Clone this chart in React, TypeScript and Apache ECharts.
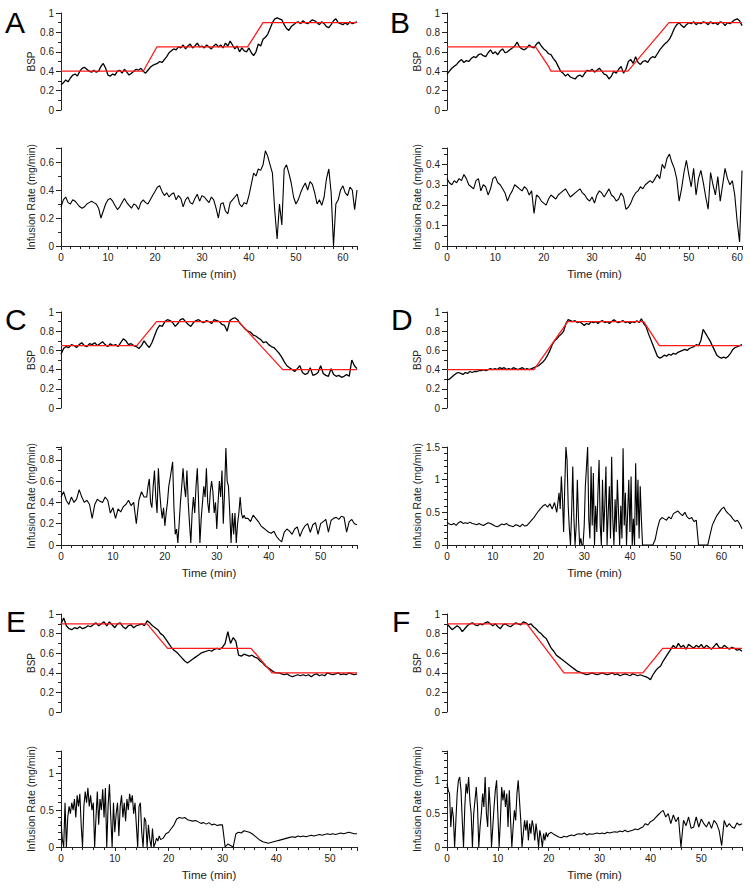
import React, { useEffect, useRef } from "react";
import * as echarts from "echarts";

// sampling step of every base trace (minutes)
const STEP = 0.5;
// sampling step of the finely read busy stretches (minutes)
const FINE_STEP = 0.25;

// ---------- Panel A ----------
const bspA = [
  0.26,0.28,0.31,0.29,0.33,0.36,0.37,0.35,0.40,0.43,0.44,0.42,0.40,0.39,0.41,0.39,0.40,0.45,0.48,0.43,0.36,
  0.35,0.37,0.36,0.40,0.41,0.38,0.42,0.39,0.36,0.38,0.40,0.42,0.41,0.43,0.40,0.38,0.41,0.44,0.46,0.47,
  0.48,0.50,0.49,0.52,0.55,0.59,0.61,0.63,0.62,0.65,0.64,0.67,0.63,0.66,0.68,0.64,0.66,0.69,0.65,0.66,
  0.64,0.67,0.65,0.63,0.66,0.68,0.65,0.67,0.64,0.69,0.66,0.71,0.67,0.63,0.66,0.60,0.64,0.61,0.60,0.64,
  0.59,0.56,0.60,0.68,0.66,0.73,0.75,0.78,0.84,0.90,0.94,0.95,0.94,0.93,0.88,0.84,0.82,0.86,0.88,0.90,
  0.91,0.89,0.92,0.90,0.89,0.91,0.93,0.92,0.90,0.88,0.91,0.89,0.86,0.85,0.88,0.92,0.94,0.90,0.89,0.88,
  0.90,0.88,0.91,0.89,0.90,0.91,
];
const infA = [
  0.28,0.33,0.35,0.31,0.30,0.33,0.32,0.30,0.28,0.27,0.28,0.30,0.31,0.32,0.31,0.30,0.27,0.20,0.25,0.30,0.33,
  0.34,0.32,0.29,0.26,0.28,0.31,0.34,0.31,0.29,0.27,0.30,0.29,0.26,0.31,0.33,0.31,0.30,0.33,0.36,0.39,
  0.42,0.43,0.39,0.36,0.38,0.35,0.37,0.38,0.33,0.36,0.34,0.28,0.33,0.35,0.31,0.30,0.34,0.37,0.32,0.36,
  0.35,0.33,0.31,0.35,0.33,0.27,0.20,0.30,0.31,0.25,0.23,0.31,0.33,0.35,0.37,0.30,0.28,0.31,0.30,0.36,
  0.44,0.52,0.50,0.55,0.54,0.58,0.68,0.64,0.58,0.52,0.25,0.05,0.30,0.15,0.55,0.58,0.52,0.45,0.35,0.30,
  0.33,0.38,0.42,0.45,0.40,0.46,0.44,0.38,0.30,0.33,0.29,0.35,0.48,0.55,0.38,0.00,0.30,0.33,0.40,0.43,
  0.38,0.36,0.42,0.40,0.26,0.40,
];
const targetA = [[0,0.4],[17.5,0.4],[20.4,0.65],[39.7,0.65],[43,0.9],[63,0.9]];

// ---------- Panel B ----------
const bspB = [
  0.37,0.40,0.43,0.45,0.47,0.50,0.52,0.49,0.51,0.50,0.53,0.55,0.54,0.57,0.58,0.56,0.55,0.59,0.62,0.58,0.60,
  0.57,0.61,0.63,0.59,0.60,0.62,0.64,0.66,0.70,0.65,0.63,0.62,0.64,0.67,0.65,0.64,0.68,0.70,0.66,0.63,
  0.61,0.58,0.57,0.53,0.50,0.45,0.40,0.38,0.35,0.37,0.34,0.33,0.32,0.35,0.36,0.34,0.38,0.41,0.40,0.42,
  0.39,0.41,0.43,0.40,0.37,0.36,0.32,0.35,0.40,0.38,0.42,0.45,0.38,0.42,0.50,0.52,0.48,0.55,0.49,0.47,
  0.50,0.51,0.49,0.53,0.55,0.54,0.58,0.62,0.65,0.68,0.70,0.73,0.78,0.84,0.88,0.90,0.87,0.85,0.88,0.90,
  0.89,0.91,0.88,0.90,0.89,0.91,0.90,0.88,0.91,0.89,0.90,0.88,0.91,0.90,0.87,0.90,0.89,0.91,0.93,0.94,
  0.92,0.87,
];
const infB = [
  0.33,0.31,0.30,0.32,0.31,0.33,0.32,0.35,0.33,0.30,0.29,0.28,0.32,0.33,0.27,0.30,0.29,0.25,0.28,0.33,0.34,
  0.31,0.30,0.28,0.26,0.22,0.25,0.27,0.30,0.29,0.28,0.27,0.29,0.28,0.25,0.27,0.16,0.25,0.24,0.22,0.21,
  0.20,0.23,0.25,0.24,0.23,0.25,0.26,0.27,0.28,0.26,0.24,0.25,0.26,0.27,0.28,0.26,0.25,0.23,0.22,0.24,
  0.21,0.25,0.27,0.26,0.24,0.26,0.28,0.25,0.24,0.22,0.23,0.26,0.24,0.18,0.19,0.21,0.24,0.26,0.27,0.29,
  0.28,0.30,0.31,0.32,0.31,0.33,0.35,0.33,0.40,0.38,0.43,0.45,0.41,0.38,0.33,0.22,0.28,0.36,0.42,0.35,
  0.29,0.38,0.25,0.33,0.37,0.31,0.24,0.18,0.36,0.30,0.25,0.34,0.22,0.30,0.38,0.33,0.30,0.32,0.25,0.12,
  0.02,0.37,
];
const targetB = [[0,0.65],[18.3,0.65],[21,0.45],[21.5,0.4],[37.4,0.4],[45.9,0.9],[61,0.9]];

// ---------- Panel C ----------
const bspC = [
  0.56,0.62,0.64,0.63,0.66,0.65,0.63,0.66,0.68,0.65,0.64,0.67,0.66,0.68,0.65,0.67,0.69,0.66,0.64,0.67,0.65,
  0.66,0.64,0.68,0.72,0.70,0.66,0.67,0.65,0.64,0.62,0.65,0.70,0.66,0.63,0.68,0.75,0.82,0.86,0.85,0.90,
  0.92,0.91,0.89,0.85,0.88,0.92,0.93,0.90,0.87,0.85,0.89,0.91,0.92,0.90,0.89,0.91,0.90,0.88,0.92,0.91,
  0.90,0.87,0.86,0.80,0.91,0.93,0.94,0.92,0.88,0.85,0.82,0.80,0.79,0.76,0.75,0.73,0.71,0.68,0.69,0.66,
  0.64,0.63,0.60,0.57,0.53,0.48,0.44,0.42,0.40,0.38,0.41,0.44,0.37,0.35,0.36,0.42,0.34,0.35,0.37,0.44,
  0.36,0.34,0.33,0.41,0.35,0.33,0.34,0.32,0.33,0.35,0.33,0.50,0.44,0.41,
];
const infC = [
  0.45,0.50,0.42,0.38,0.45,0.40,0.43,0.52,0.45,0.40,0.42,0.38,0.25,0.38,0.43,0.41,0.40,0.45,0.42,0.30,0.35,
  0.25,0.34,0.31,0.36,0.38,0.42,0.37,0.40,0.20,0.42,0.50,0.45,0.62,0.40,0.35,0.70,0.30,0.72,0.25,0.18,
  0.40,0.55,0.78,0.10,0.02,0.40,0.72,0.55,0.30,0.02,0.45,0.72,0.02,0.55,0.72,0.30,0.60,0.50,0.25,0.15,
  0.60,0.70,0.20,0.91,0.55,0.02,0.30,0.02,0.30,0.45,0.28,0.25,0.22,0.28,0.25,0.22,0.18,0.16,0.14,0.12,
  0.11,0.13,0.08,0.05,0.03,0.12,0.15,0.13,0.10,0.15,0.17,0.08,0.14,0.18,0.20,0.12,0.19,0.21,0.10,0.20,
  0.22,0.24,0.12,0.23,0.25,0.26,0.24,0.27,0.26,0.12,0.22,0.24,0.20,0.19,
];
// busy stretch of C read at 0.25 min, from 16.5 min
const infCFineStart = 16.5;
const infCFine = [
  0.45,0.55,0.62,0.40,0.35,0.55,0.70,0.45,0.30,0.72,0.50,0.35,0.25,0.35,0.18,0.30,
  0.40,0.55,0.62,0.70,0.78,0.35,0.10,0.15,0.02,0.20,0.40,0.55,0.72,0.55,0.45,0.70,
  0.40,0.20,0.02,0.30,0.45,0.30,0.55,0.72,0.40,0.02,0.25,0.40,0.55,0.45,0.72,0.40,
  0.30,0.50,0.60,0.50,0.30,0.40,0.15,0.40,0.60,0.45,0.70,0.20,0.50,0.91,0.60,0.55,
  0.30,0.02,0.30,0.10,0.30,0.02,0.20,0.30,0.45,0.30,0.25,0.28,0.25,
];
const targetC = [[0,0.65],[14.6,0.65],[18.4,0.9],[34.2,0.9],[42.7,0.4],[57,0.4]];

// ---------- Panel D ----------
const bspD = [
  0.29,0.30,0.32,0.34,0.36,0.37,0.36,0.35,0.37,0.36,0.38,0.37,0.38,0.38,0.39,0.39,0.40,0.39,0.40,0.41,0.40,
  0.41,0.40,0.42,0.41,0.42,0.40,0.41,0.40,0.42,0.41,0.40,0.41,0.42,0.40,0.41,0.40,0.41,0.42,0.43,0.44,
  0.46,0.48,0.51,0.55,0.60,0.66,0.70,0.72,0.75,0.77,0.80,0.88,0.92,0.91,0.90,0.91,0.89,0.90,0.88,0.86,
  0.88,0.87,0.90,0.89,0.90,0.88,0.90,0.91,0.89,0.90,0.88,0.90,0.92,0.90,0.89,0.90,0.91,0.89,0.90,0.88,
  0.90,0.89,0.91,0.89,0.93,0.88,0.85,0.78,0.72,0.66,0.60,0.54,0.52,0.53,0.55,0.54,0.56,0.55,0.57,0.56,
  0.58,0.59,0.60,0.61,0.60,0.62,0.63,0.64,0.66,0.65,0.70,0.82,0.78,0.74,0.70,0.65,0.60,0.55,0.53,0.52,
  0.53,0.52,0.54,0.57,0.61,0.63,0.64,0.65,0.66,
];
const infD = [
  0.35,0.32,0.31,0.33,0.30,0.34,0.36,0.33,0.34,0.33,0.35,0.33,0.32,0.31,0.33,0.31,0.30,0.32,0.34,0.33,0.31,
  0.29,0.28,0.30,0.32,0.31,0.33,0.30,0.29,0.28,0.31,0.30,0.28,0.32,0.29,0.30,0.34,0.38,0.42,0.47,0.52,
  0.56,0.60,0.62,0.58,0.63,0.55,0.65,0.50,0.80,1.05,0.20,1.50,0.60,0.00,1.20,0.00,1.00,0.30,0.00,0.10,
  1.50,0.30,1.10,0.00,0.60,1.30,0.10,1.20,0.00,1.00,0.40,1.35,0.10,1.00,0.00,1.48,0.20,1.00,0.30,0.00,
  0.70,1.25,0.00,0.90,0.30,0.00,0.00,0.00,0.00,0.00,0.08,0.25,0.38,0.42,0.40,0.38,0.43,0.40,0.48,0.50,
  0.52,0.48,0.45,0.50,0.43,0.40,0.42,0.36,0.38,0.00,0.00,0.00,0.00,0.00,0.15,0.30,0.38,0.45,0.50,0.55,
  0.58,0.52,0.48,0.45,0.40,0.36,0.38,0.32,0.25,
];
// busy stretch of D read at 0.25 min, from 24.5 min
const infDFineStart = 24.5;
const infDFine = [
  0.80,0.55,1.05,0.70,0.20,0.90,1.50,1.30,0.60,0.25,0.00,0.50,1.20,0.40,0.00,0.30,
  1.00,0.40,0.00,0.10,0.00,0.00,0.30,0.90,1.20,1.50,0.40,0.10,1.20,0.30,1.10,0.00,
  0.60,0.20,0.80,1.30,0.30,0.00,1.00,0.20,0.60,1.20,0.00,0.50,0.90,0.10,1.35,0.40,
  0.00,0.70,0.20,1.00,0.50,0.00,0.60,0.10,1.48,0.30,0.80,0.00,0.50,1.00,0.20,1.05,
  0.00,0.40,0.00,1.25,0.30,1.00,0.10,0.90,0.40,0.00,0.00,
];
const targetD = [[0,0.4],[19,0.4],[26.4,0.9],[43,0.9],[46.4,0.65],[64.5,0.65]];

// ---------- Panel E ----------
const bspE = [
  0.90,0.96,0.88,0.85,0.84,0.86,0.85,0.87,0.85,0.86,0.88,0.87,0.89,0.91,0.88,0.90,0.92,0.88,0.92,0.89,0.86,
  0.90,0.91,0.87,0.85,0.88,0.89,0.86,0.88,0.89,0.90,0.88,0.93,0.91,0.88,0.86,0.84,0.80,0.78,0.74,0.70,
  0.66,0.63,0.61,0.58,0.55,0.52,0.50,0.52,0.54,0.56,0.58,0.60,0.61,0.62,0.63,0.62,0.64,0.65,0.64,0.66,
  0.70,0.82,0.70,0.76,0.72,0.58,0.57,0.59,0.58,0.57,0.58,0.56,0.55,0.52,0.50,0.47,0.45,0.43,0.41,0.40,
  0.40,0.39,0.38,0.39,0.37,0.36,0.37,0.38,0.37,0.38,0.37,0.38,0.36,0.38,0.39,0.37,0.38,0.37,0.40,0.39,
  0.38,0.39,0.40,0.38,0.39,0.38,0.40,0.39,0.38,0.39,
];
const infE = [
  0.35,0.00,0.60,0.05,0.60,0.50,0.65,0.70,0.00,0.75,0.80,0.60,0.55,0.00,0.75,0.30,0.80,0.00,0.85,0.40,0.00,
  0.60,0.15,0.70,0.35,0.65,0.72,0.50,0.30,0.00,0.60,0.00,0.35,0.00,0.30,0.00,0.10,0.15,0.12,0.18,0.20,
  0.25,0.30,0.38,0.40,0.39,0.40,0.37,0.36,0.35,0.36,0.34,0.32,0.33,0.31,0.33,0.30,0.31,0.29,0.30,0.30,
  0.00,0.04,0.02,0.00,0.18,0.20,0.19,0.22,0.21,0.20,0.18,0.15,0.12,0.09,0.07,0.06,0.05,0.06,0.07,0.08,
  0.09,0.10,0.11,0.12,0.13,0.14,0.13,0.15,0.14,0.15,0.14,0.15,0.16,0.15,0.16,0.17,0.16,0.17,0.18,0.17,
  0.18,0.17,0.18,0.19,0.18,0.19,0.20,0.19,0.18,0.18,
];
// busy stretch of E read at 0.25 min, from 0 min
const infEFineStart = 0;
const infEFine = [
  0.35,0.10,0.00,0.60,0.00,0.40,0.55,0.45,0.60,0.50,0.65,0.40,0.70,0.55,0.72,0.30,
  0.00,0.55,0.75,0.60,0.80,0.55,0.70,0.50,0.60,0.00,0.40,0.75,0.30,0.65,0.50,0.78,
  0.40,0.80,0.00,0.55,0.85,0.40,0.00,0.60,0.20,0.45,0.60,0.15,0.55,0.70,0.40,0.60,
  0.35,0.65,0.50,0.72,0.60,0.70,0.45,0.60,0.30,0.00,0.55,0.60,0.20,0.00,0.40,0.35,
  0.00,0.30,0.10,0.00,0.25,0.00,0.05,0.12,0.08,0.15,0.10,
];
const targetE = [[0,0.9],[16,0.9],[19.8,0.65],[35.3,0.65],[39.2,0.4],[55,0.4]];

// ---------- Panel F ----------
const bspF = [
  0.90,0.87,0.84,0.86,0.88,0.86,0.82,0.85,0.88,0.90,0.91,0.89,0.88,0.90,0.89,0.91,0.92,0.90,0.88,0.90,0.87,
  0.85,0.89,0.90,0.88,0.87,0.89,0.91,0.90,0.89,0.92,0.91,0.89,0.90,0.87,0.85,0.82,0.80,0.77,0.75,0.70,
  0.65,0.62,0.58,0.56,0.54,0.52,0.50,0.48,0.46,0.44,0.42,0.41,0.40,0.39,0.38,0.39,0.40,0.39,0.38,0.39,
  0.40,0.39,0.38,0.39,0.40,0.38,0.39,0.37,0.38,0.39,0.38,0.37,0.39,0.38,0.37,0.38,0.37,0.36,0.35,0.33,
  0.38,0.42,0.45,0.47,0.52,0.56,0.60,0.64,0.68,0.65,0.70,0.66,0.68,0.64,0.69,0.67,0.65,0.68,0.66,0.69,
  0.65,0.68,0.66,0.64,0.67,0.70,0.66,0.65,0.68,0.66,0.64,0.66,0.65,0.63,0.64,0.62,
];
const infF = [
  0.95,0.80,0.30,0.00,0.40,1.00,1.05,0.00,0.95,1.05,0.50,0.30,0.90,0.00,0.50,1.05,0.50,0.90,0.00,0.60,1.00,
  0.00,0.90,0.70,0.85,0.30,0.00,0.55,1.00,0.40,0.00,0.40,0.20,0.40,0.10,0.35,0.00,0.20,0.22,0.18,0.20,
  0.22,0.19,0.17,0.15,0.14,0.16,0.15,0.17,0.18,0.17,0.19,0.20,0.19,0.21,0.18,0.20,0.19,0.20,0.21,0.20,
  0.21,0.20,0.22,0.21,0.22,0.23,0.22,0.24,0.23,0.25,0.23,0.24,0.25,0.27,0.26,0.28,0.30,0.35,0.33,0.38,
  0.40,0.44,0.48,0.52,0.55,0.45,0.50,0.35,0.48,0.38,0.45,0.00,0.40,0.32,0.45,0.28,0.30,0.45,0.30,0.42,
  0.35,0.30,0.38,0.28,0.40,0.35,0.25,0.02,0.40,0.30,0.35,0.30,0.28,0.36,0.33,0.35,
];
// busy stretch of F read at 0.25 min, from 0 min
const infFFineStart = 0;
const infFFine = [
  0.95,0.85,0.80,0.30,0.60,0.45,0.00,0.40,0.80,1.00,1.05,0.85,0.40,0.00,0.60,0.95,
  0.80,1.05,0.70,0.50,0.00,0.50,0.70,0.90,0.60,0.00,0.30,0.50,0.80,0.60,1.05,0.50,
  0.30,0.90,0.60,0.00,0.30,0.60,0.85,1.00,0.50,0.00,0.40,0.90,0.70,0.85,0.60,0.80,
  0.30,0.85,0.40,0.00,0.30,0.55,0.40,0.80,1.00,0.70,0.40,0.00,0.20,0.40,0.25,0.40,
  0.10,0.35,0.20,0.40,0.30,0.10,0.35,0.20,0.00,0.25,0.15,0.00,0.20,0.10,0.22,0.15,
  0.20,
];
const targetF = [[0,0.9],[15.7,0.9],[23,0.4],[38.5,0.4],[42.4,0.65],[58,0.65]];

const panelLetters = ["A", "B", "C", "D", "E", "F"];
const timeMax = [63, 61, 57, 64.5, 55, 58];
const infMax = [0.7, 0.48, 0.92, 1.5, 1.3, 1.44];
const infInterval = [0.2, 0.1, 0.2, 0.5, 0.5, 0.5];
const infMinorSplit = [2, 2, 2, 5, 5, 5];
const bspSeries = [bspA, bspB, bspC, bspD, bspE, bspF];
const infSeries = [infA, infB, infC, infD, infE, infF];
const infFine: (number[] | null)[] = [null, null, infCFine, infDFine, infEFine, infFFine];
const infFineStart = [0, 0, infCFineStart, infDFineStart, infEFineStart, infFFineStart];
const targets = [targetA, targetB, targetC, targetD, targetE, targetF];

const FONT = "'Liberation Sans', Arial, Helvetica, sans-serif";
const AXIS_COLOR = "#222";
const TEXT_COLOR = "#222";

export default function App() {
  const ref = useRef<HTMLDivElement>(null);

  useEffect(() => {
    if (!ref.current) return;
    const chart = echarts.init(ref.current, undefined, { renderer: "svg" });

    const colLeft = [61, 447];
    const colWidth = [296, 295];
    const bspTop = [13, 312, 614];
    const bspH = [97, 96, 98];
    const infTop = [148, 447, 751];
    const infH = [98, 98, 96];
    const letterPos = [
      [5, 7], [390, 7], [5, 304], [391, 304], [6, 606], [392, 606],
    ];

    const grids: any[] = [];
    const xAxes: any[] = [];
    const yAxes: any[] = [];
    const series: any[] = [];
    const graphics: any[] = [];

    const toPairs = (arr: number[]) => arr.map((v, i) => [i * STEP, v]);
    const withFine = (base: number[], fine: number[] | null, start: number) => {
      const basePts = toPairs(base);
      if (!fine) return basePts;
      const finePts = fine.map((v, i) => [start + i * FINE_STEP, v]);
      const end = start + (fine.length - 1) * FINE_STEP;
      const before = basePts.filter((p) => p[0] < start - 1e-9);
      const after = basePts.filter((p) => p[0] > end + 1e-9);
      return [...before, ...finePts, ...after];
    };

    const axisText = { fontSize: 10, color: TEXT_COLOR, fontFamily: FONT };

    panelLetters.forEach((letter, k) => {
      const col = k % 2;
      const row = Math.floor(k / 2);
      const gB = 2 * k;
      const gI = 2 * k + 1;
      grids.push({ left: colLeft[col], top: bspTop[row], width: colWidth[col], height: bspH[row] });
      grids.push({ left: colLeft[col], top: infTop[row], width: colWidth[col], height: infH[row] });

      // BSP axes
      xAxes.push({ type: "value", gridIndex: gB, min: 0, max: timeMax[k], show: false });
      yAxes.push({
        type: "value", gridIndex: gB, min: 0, max: 1, interval: 0.2,
        name: "BSP", nameLocation: "middle", nameGap: 24,
        nameTextStyle: { fontSize: 10, color: TEXT_COLOR, fontFamily: FONT },
        axisLine: { show: true, lineStyle: { color: AXIS_COLOR, width: 1 } },
        axisTick: { show: true, length: 5, lineStyle: { color: AXIS_COLOR } },
        minorTick: { show: true, splitNumber: 2, length: 3, lineStyle: { color: AXIS_COLOR } },
        axisLabel: { ...axisText, margin: 7 },
        splitLine: { show: false },
      });

      // Infusion axes
      xAxes.push({
        type: "value", gridIndex: gI, min: 0, max: timeMax[k], interval: 10,
        name: "Time (min)", nameLocation: "middle", nameGap: 22,
        nameTextStyle: { fontSize: 11.5, color: TEXT_COLOR, fontFamily: FONT },
        axisLine: { show: true, onZero: false, lineStyle: { color: AXIS_COLOR, width: 1 } },
        axisTick: { show: true, length: 4, lineStyle: { color: AXIS_COLOR } },
        minorTick: { show: true, splitNumber: 5, length: 3, lineStyle: { color: AXIS_COLOR } },
        axisLabel: { ...axisText, margin: 6, showMaxLabel: false },
        splitLine: { show: false },
      });
      yAxes.push({
        type: "value", gridIndex: gI, min: 0, max: infMax[k], interval: infInterval[k],
        name: "Infusion Rate (mg/min)", nameLocation: "middle", nameGap: 24,
        nameTextStyle: { fontSize: 10.5, color: TEXT_COLOR, fontFamily: FONT },
        axisLine: { show: true, lineStyle: { color: AXIS_COLOR, width: 1 } },
        axisTick: { show: true, length: 5, lineStyle: { color: AXIS_COLOR } },
        minorTick: { show: true, splitNumber: infMinorSplit[k], length: 3, lineStyle: { color: AXIS_COLOR } },
        axisLabel: {
          ...axisText, margin: 7,
          showMaxLabel: Math.abs(infMax[k] / infInterval[k] - Math.round(infMax[k] / infInterval[k])) < 1e-6,
        },
        splitLine: { show: false },
      });

      series.push({
        type: "line", xAxisIndex: gB, yAxisIndex: gB, data: toPairs(bspSeries[k]),
        showSymbol: false, lineStyle: { color: "#000", width: 1.3 }, z: 2,
      });
      series.push({
        type: "line", xAxisIndex: gB, yAxisIndex: gB, data: targets[k],
        showSymbol: false, lineStyle: { color: "#ff1a1a", width: 1.3 }, z: 3,
      });
      series.push({
        type: "line", xAxisIndex: gI, yAxisIndex: gI,
        data: withFine(infSeries[k], infFine[k], infFineStart[k]),
        showSymbol: false, lineStyle: { color: "#000", width: 1.1 }, z: 2,
      });

      graphics.push({
        type: "text", left: letterPos[k][0], top: letterPos[k][1],
        style: { text: letter, fontSize: 30, fill: "#000", fontFamily: FONT },
      });
    });

    chart.setOption({
      animation: false,
      backgroundColor: "#fff",
      textStyle: { fontFamily: FONT },
      grid: grids,
      xAxis: xAxes,
      yAxis: yAxes,
      series,
      graphic: graphics,
    });

    return () => chart.dispose();
  }, []);

  return (
    <div
      ref={ref}
      style={{ position: "absolute", left: 0, top: 0, width: 750, height: 888, background: "#fff" }}
    />
  );
}
